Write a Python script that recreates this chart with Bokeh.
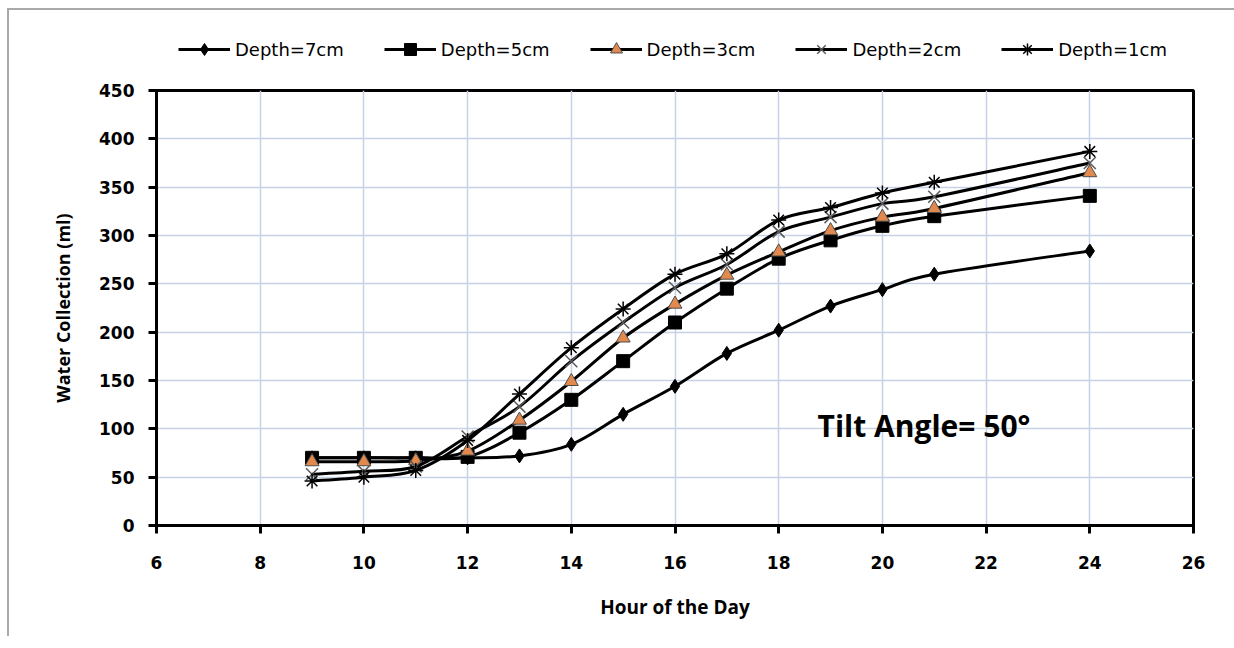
import numpy as np
from bokeh.plotting import figure
from bokeh.layouts import column
from bokeh.models import (ColumnDataSource, Legend, LegendItem, Range1d,
                          SingleIntervalTicker, Label)
from bokeh.embed import file_html
from bokeh.resources import INLINE

# Hour of the day and collected water (ml) for each wick depth
hours = [9, 10, 11, 12, 13, 14, 15, 16, 17, 18, 19, 20, 21, 24]
depth_7cm = [70, 70, 70, 70, 72, 84, 115, 144, 178, 202, 227, 244, 260, 284]
depth_5cm = [70, 70, 70, 71, 96, 130, 170, 210, 245, 276, 295, 310, 320, 341]
depth_3cm = [66, 66, 67, 77, 109, 149, 194, 229, 259, 283, 305, 319, 328, 365]
depth_2cm = [53, 56, 61, 92, 123, 170, 210, 246, 270, 304, 319, 333, 340, 375]
depth_1cm = [46, 50, 57, 88, 136, 184, 224, 260, 281, 316, 329, 344, 355, 387]

series_labels = ["Depth=7cm", "Depth=5cm", "Depth=3cm", "Depth=2cm", "Depth=1cm"]
x_ticks_step = 2
y_ticks_step = 50
annotation_text = "Tilt Angle= 50°"


def smooth_segments(xs, ys, k=1.0 / 6.0):
    """Cubic Bezier pieces through every point (Catmull-Rom style control points)."""
    xs = np.asarray(xs, float)
    ys = np.asarray(ys, float)
    n = len(xs)
    seg = dict(x0=[], y0=[], x1=[], y1=[], cx0=[], cy0=[], cx1=[], cy1=[])
    for i in range(n - 1):
        a = max(i - 1, 0)
        d = min(i + 2, n - 1)
        seg["x0"].append(xs[i]); seg["y0"].append(ys[i])
        seg["x1"].append(xs[i + 1]); seg["y1"].append(ys[i + 1])
        seg["cx0"].append(xs[i] + (xs[i + 1] - xs[a]) * k)
        seg["cy0"].append(ys[i] + (ys[i + 1] - ys[a]) * k)
        seg["cx1"].append(xs[i + 1] - (xs[d] - xs[i]) * k)
        seg["cy1"].append(ys[i + 1] - (ys[d] - ys[i]) * k)
    return ColumnDataSource(seg)


W = 1225
marker_styles = [
    dict(marker="diamond", size=14, fill_color="black", line_color="black", line_width=1),
    dict(marker="square", size=13, fill_color="black", line_color="black", line_width=1),
    dict(marker="triangle", size=14, fill_color="#e2894e", line_color="#4d4d4d", line_width=1),
    dict(marker="x", size=17, fill_color=None, line_color="#5a5a5a", line_width=1.5),
    dict(marker="asterisk", size=15, fill_color=None, line_color="black", line_width=1.5),
]
all_series = [depth_7cm, depth_5cm, depth_3cm, depth_2cm, depth_1cm]

# ---- legend strip across the top (its frame lines up with the chart's frame) ----
key_fig = figure(width=W, height=70, output_backend="svg", toolbar_location=None,
                 x_axis_type=None, y_axis_type=None,
                 x_range=Range1d(0, 1), y_range=Range1d(0, 1),
                 min_border=0, outline_line_color=None,
                 background_fill_color="white", border_fill_color="white")

# ---- main chart ----
p = figure(width=W, height=556, output_backend="svg", toolbar_location=None,
           x_range=Range1d(6, 26), y_range=Range1d(0, 450),
           min_border_left=147, min_border_right=41,
           min_border_top=10, min_border_bottom=111,
           background_fill_color="white", border_fill_color="white")

p.outline_line_color = "black"
p.outline_line_width = 3
p.grid.grid_line_color = "#c7d1e6"
p.grid.grid_line_width = 1.5

p.xaxis.ticker = SingleIntervalTicker(interval=x_ticks_step)
p.yaxis.ticker = SingleIntervalTicker(interval=y_ticks_step)
for ax in (p.xaxis, p.yaxis):
    ax.axis_line_width = 3
    ax.axis_line_color = "black"
    ax.major_tick_line_width = 3
    ax.major_tick_line_color = "black"
    ax.major_tick_in = 0
    ax.major_tick_out = 8
    ax.minor_tick_line_color = None
    ax.major_label_text_font = "DejaVu Sans"
    ax.major_label_text_font_style = "bold"
    ax.major_label_text_font_size = "17px"
    ax.major_label_text_color = "black"
    ax.axis_label_text_font = "Open Sans"
    ax.axis_label_text_font_style = "bold"
    ax.axis_label_text_color = "black"
p.xaxis.axis_label_text_font_size = "19px"
p.yaxis.axis_label_text_font_size = "18px"
p.xaxis.major_label_standoff = 22
p.yaxis.major_label_standoff = 14
p.xaxis.axis_label = "Hour of the Day"
p.yaxis.axis_label = "Water Collection (ml)"
p.xaxis.axis_label_standoff = 22
p.yaxis.axis_label_standoff = 21

items = []
for label, ys, st in zip(series_labels, all_series, marker_styles):
    p.bezier(x0="x0", y0="y0", x1="x1", y1="y1", cx0="cx0", cy0="cy0",
             cx1="cx1", cy1="cy1", source=smooth_segments(hours, ys),
             line_color="black", line_width=3)
    p.scatter(x=hours, y=ys, **st)
    # key glyphs for the legend strip; the series itself lies outside this strip's ranges
    key_line = key_fig.line(x=hours, y=ys, line_color="black", line_width=3)
    key_mark = key_fig.scatter(x=hours, y=ys, **st)
    items.append(LegendItem(label=label, renderers=[key_line, key_mark]))

legend = Legend(items=items, orientation="horizontal", location=(22, 16),
                border_line_color=None, background_fill_alpha=0,
                padding=0, margin=0, spacing=40, label_standoff=5,
                glyph_width=52, glyph_height=30,
                label_text_font="DejaVu Sans", label_text_font_size="18px",
                label_text_color="black", label_text_baseline="middle")
key_fig.add_layout(legend, "center")

p.add_layout(Label(x=18.75, y=103, text=annotation_text, text_font="Open Sans",
                   text_font_style="bold", text_font_size="30px",
                   text_color="black", text_baseline="middle"))

page = column(key_fig, p, spacing=0)
page.styles = {"margin-left": "7px", "margin-top": "8px",
               "border-left": "2px solid #a9a9a9", "border-top": "2px solid #a9a9a9"}

open("out.html", "w").write(file_html(page, INLINE))
